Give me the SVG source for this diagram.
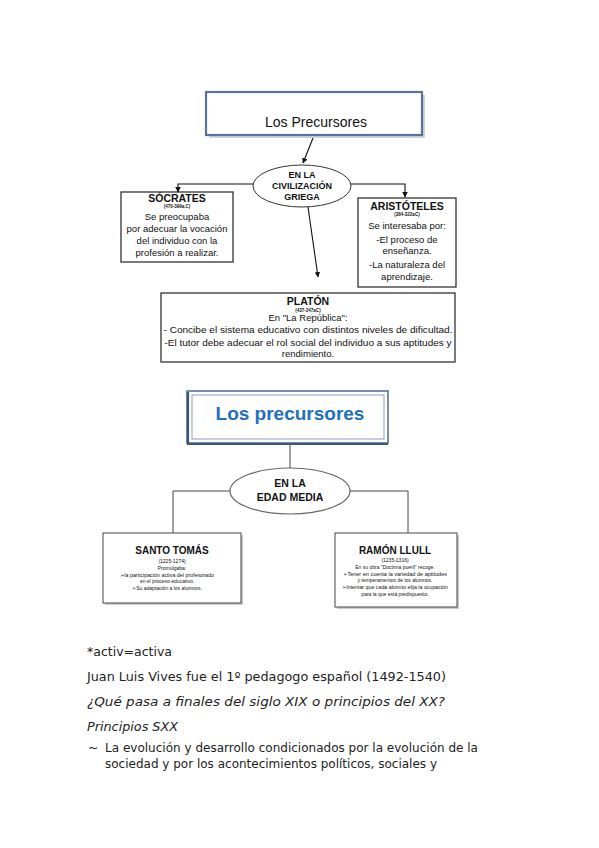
<svg xmlns="http://www.w3.org/2000/svg" width="599" height="848" viewBox="0 0 599 848">
<defs>
<marker id="ah" viewBox="0 0 10 10" refX="9" refY="5" markerWidth="5" markerHeight="5" orient="auto-start-reverse">
<path d="M0,0 L10,5 L0,10 z" fill="#111"/>
</marker>
<style>
.d{font-family:"Liberation Sans",Arial,sans-serif;fill:#111;text-anchor:middle}
.b{font-weight:bold}
.box{fill:#fff;stroke:#333;stroke-width:1.3}
.box2{fill:#fff;stroke:#444;stroke-width:1}
.con{fill:none;stroke:#111;stroke-width:1.1}
.con2{fill:none;stroke:#444;stroke-width:1}
.t{font-family:"DejaVu Sans",sans-serif;font-size:12.5px;fill:#222}
.i{font-style:italic}
</style>
</defs>
<rect width="599" height="848" fill="#fff"/>

<g id="title1">
<rect x="209" y="95" width="216" height="43" fill="#9aa" opacity="0.5"/>
<rect x="206" y="92" width="216" height="43" fill="#fff" stroke="#56739c" stroke-width="2.2"/>
<text class="d" x="316" y="127" font-size="14">Los Precursores</text>
</g>

<g id="griega">
<ellipse cx="302" cy="186" rx="49" ry="21" fill="#fff" stroke="#333" stroke-width="1"/>
<text class="d b" x="302" y="178" font-size="9">EN LA</text>
<text class="d b" x="302" y="189" font-size="9">CIVILIZACIÓN</text>
<text class="d b" x="302" y="200" font-size="9">GRIEGA</text>
</g>

<g id="socrates">
<rect class="box" x="121" y="192" width="112" height="70"/>
<text class="d b" x="177" y="202" font-size="10.5">SÓCRATES</text>
<text class="d b" x="177" y="208" font-size="4.5">(470-399a.C)</text>
<text class="d" x="177" y="220" font-size="9.5">Se preocupaba</text>
<text class="d" x="177" y="232" font-size="9.5">por adecuar la vocación</text>
<text class="d" x="177" y="244" font-size="9.5">del individuo con la</text>
<text class="d" x="177" y="256" font-size="9.5">profesión a realizar.</text>
</g>

<g id="aristoteles">
<rect class="box" x="358" y="198" width="98" height="89"/>
<text class="d b" x="407" y="210" font-size="10.5">ARISTÓTELES</text>
<text class="d b" x="407" y="216" font-size="4.5">(384-322aC)</text>
<text class="d" x="407" y="229" font-size="9.5">Se interesaba por:</text>
<text class="d" x="407" y="243" font-size="9.5">-El proceso de</text>
<text class="d" x="407" y="254" font-size="9.5">enseñanza.</text>
<text class="d" x="407" y="268" font-size="9.5">-La naturaleza del</text>
<text class="d" x="407" y="280" font-size="9.5">aprendizaje.</text>
</g>

<g id="platon">
<rect class="box" x="161" y="293" width="294" height="69"/>
<text class="d b" x="308" y="305" font-size="10.5">PLATÓN</text>
<text class="d b" x="308" y="312" font-size="4.5">(437-347aC)</text>
<text class="d" x="308" y="321" font-size="9.5">En "La República":</text>
<text class="d" x="308" y="333" font-size="9.5" textLength="289" lengthAdjust="spacingAndGlyphs">- Concibe el sistema educativo con distintos niveles de dificultad.</text>
<text class="d" x="308" y="346" font-size="9.5" textLength="287" lengthAdjust="spacingAndGlyphs">-El tutor debe adecuar el rol social del individuo a sus aptitudes y</text>
<text class="d" x="308" y="357" font-size="9.5">rendimiento.</text>
</g>

<g id="title2">
<rect x="187" y="391" width="201" height="52" fill="#fff" stroke="#4a6893" stroke-width="1.5"/>
<path d="M188,392 L188,444 L388,444" fill="none" stroke="#3d5578" stroke-width="2.2"/>
<rect x="192" y="395" width="192" height="44" fill="#fff" stroke="#7f94b3" stroke-width="0.9"/>
<text class="d b" x="290" y="420" font-size="19" style="fill:#1d6fc0">Los precursores</text>
</g>

<g id="media">
<ellipse cx="290" cy="491" rx="60" ry="23" fill="#fff" stroke="#666" stroke-width="1.2"/>
<text class="d b" x="290" y="487" font-size="10.5">EN LA</text>
<text class="d b" x="290" y="501" font-size="10.5">EDAD MEDIA</text>
</g>

<g id="tomas">
<rect x="105" y="535" width="138" height="70" fill="#ccc"/>
<rect class="box2" x="103" y="533" width="138" height="70"/>
<text class="d b" x="172" y="554" font-size="10">SANTO TOMÁS</text>
<text class="d" x="172" y="563" font-size="5">(1225-1274)</text>
<text class="d" x="172" y="570" font-size="5">Promulgaba:</text>
<text class="d" x="167" y="577" font-size="5" textLength="94" lengthAdjust="spacingAndGlyphs">➢la participación activa del profesorado</text>
<text class="d" x="167" y="583" font-size="5">en el proceso educativo.</text>
<text class="d" x="167" y="590" font-size="5">➢Su adaptación a los alumnos.</text>
</g>

<g id="llull">
<rect x="337" y="535" width="122" height="74" fill="#ccc"/>
<rect class="box2" x="335" y="533" width="122" height="74"/>
<text class="d b" x="395" y="554" font-size="10">RAMÓN LLULL</text>
<text class="d" x="395" y="562" font-size="5">(1235-1316)</text>
<text class="d" x="395" y="569" font-size="5">En su obra "Doctrina pueril" recoge:</text>
<text class="d" x="395" y="576" font-size="5" textLength="104" lengthAdjust="spacingAndGlyphs">➢Tener en cuenta la variedad de aptitudes</text>
<text class="d" x="395" y="582" font-size="5">y temperamentos de los alumnos.</text>
<text class="d" x="395" y="589" font-size="5" textLength="106" lengthAdjust="spacingAndGlyphs">➢Intentar que cada alumno elija la ocupación</text>
<text class="d" x="395" y="596" font-size="5">para la que está predispuesto.</text>
</g>

<g id="connectors">
<path class="con" d="M313,138 L303,163" marker-end="url(#ah)"/>
<path class="con" d="M253,184 L178,184 L178,192" marker-end="url(#ah)"/>
<path class="con" d="M351,184 L405,184 L405,197" marker-end="url(#ah)"/>
<path class="con" d="M308,207 L318,277" marker-end="url(#ah)"/>
<path class="con2" d="M290,445 L290,468"/>
<path class="con2" d="M230,491 L173,491 L173,533"/>
<path class="con2" d="M350,491 L408,491 L408,533"/>
</g>

<g id="notes">
<text class="t" x="87" y="656" textLength="85" lengthAdjust="spacingAndGlyphs">*activ=activa</text>
<text class="t" x="87" y="681" textLength="359" lengthAdjust="spacingAndGlyphs">Juan Luis Vives fue el 1º pedagogo español (1492-1540)</text>
<text class="t i" x="87" y="706" textLength="358" lengthAdjust="spacingAndGlyphs">¿Qué pasa a finales del siglo XIX o principios del XX?</text>
<text class="t i" x="87" y="731" textLength="91" lengthAdjust="spacingAndGlyphs">Principios SXX</text>
<text class="t" x="88" y="752">~</text>
<text class="t" x="105" y="752" textLength="373" lengthAdjust="spacingAndGlyphs">La evolución y desarrollo condicionados por la evolución de la</text>
<text class="t" x="105" y="768" textLength="332" lengthAdjust="spacingAndGlyphs">sociedad y por los acontecimientos políticos, sociales y</text>
</g>
</svg>
